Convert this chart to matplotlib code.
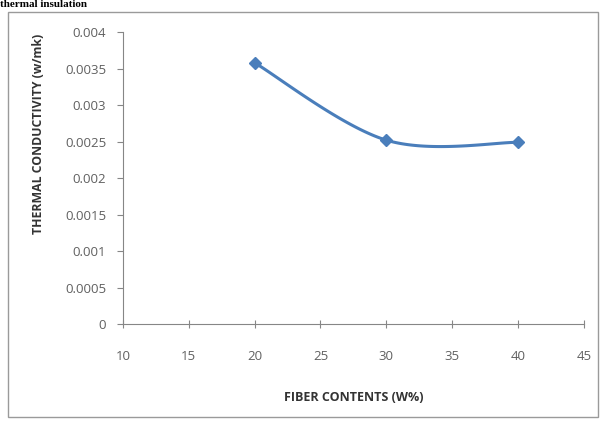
import numpy as np
import matplotlib
matplotlib.use('Agg')
from matplotlib import pyplot as plt
from matplotlib.patches import Rectangle

fiber = [20, 30, 40]
conductivity = [0.00358, 0.00252, 0.00249]
x_ticks = [10, 15, 20, 25, 30, 35, 40, 45]
y_ticks = [0, 0.0005, 0.001, 0.0015, 0.002, 0.0025, 0.003, 0.0035, 0.004]
y_labels = ['0', '0.0005', '0.001', '0.0015', '0.002', '0.0025', '0.003', '0.0035', '0.004']

plt.rcParams['font.family'] = ['Open Sans', 'DejaVu Sans']

fig = plt.figure(figsize=(6, 4.23), dpi=100)
ax = fig.add_axes([0.205, 0.234, 0.768, 0.69])
ax.set_xlim(10, 45)
ax.set_ylim(0, 0.004)

# smoothed line: cubic bezier through the points, worked out in pixel space
w_px, h_px = 0.768 * 600, 0.69 * 423
sx, sy = w_px / 35.0, h_px / 0.004
P = np.array([[(x - 10) * sx, y * sy] for x, y in zip(fiber, conductivity)])
Pe = np.vstack([P[0], P, P[-1]])
curve = []
t = np.linspace(0, 1, 60)[:, None]
for i in range(len(P) - 1):
    p0, p1 = Pe[i + 1], Pe[i + 2]
    c1 = p0 + (Pe[i + 2] - Pe[i]) / 6
    c2 = p1 - (Pe[i + 3] - Pe[i + 1]) / 6
    seg = (1 - t)**3 * p0 + 3 * (1 - t)**2 * t * c1 + 3 * (1 - t) * t**2 * c2 + t**3 * p1
    curve.append(seg)
curve = np.vstack(curve)
ax.plot(curve[:, 0] / sx + 10, curve[:, 1] / sy, color='#4a7ebb', lw=2.2, solid_capstyle='round')
ax.plot(fiber, conductivity, linestyle='none', marker='D', ms=6, color='#4a7ebb')

for s in ['top', 'right']:
    ax.spines[s].set_visible(False)
for s in ['left', 'bottom']:
    ax.spines[s].set_color('#868686')
    ax.spines[s].set_linewidth(0.8)

ax.set_xticks(x_ticks)
ax.set_xticklabels([str(v) for v in x_ticks])
ax.set_yticks(y_ticks)
ax.set_yticklabels(y_labels)
ax.tick_params(axis='x', direction='inout', length=6, color='#868686', labelsize=9.5, labelcolor='#606060', pad=16)
ax.tick_params(axis='y', direction='out', length=4, color='#868686', labelsize=9.5, labelcolor='#606060', pad=8)

ax.set_xlabel('FIBER CONTENTS (W%)', fontsize=9, fontweight='bold', color='#333333')
ax.set_ylabel('THERMAL CONDUCTIVITY (w/mk)', fontsize=8.8, fontweight='bold', color='#333333')
ax.xaxis.set_label_coords(0.5, -0.23)
ax.yaxis.set_label_coords(-0.17, 0.651)

# chart frame and the caption above it
fig.patches.append(Rectangle((8 / 600, 6 / 423), 590 / 600, 405 / 423, transform=fig.transFigure,
                             fill=False, edgecolor='#9a9a9a', lw=1))
fig.text(0.0, 1.0, 'thermal insulation', fontsize=8, fontweight='bold',
         family='Liberation Serif', va='top', ha='left')

plt.savefig('out.png', dpi=100)
